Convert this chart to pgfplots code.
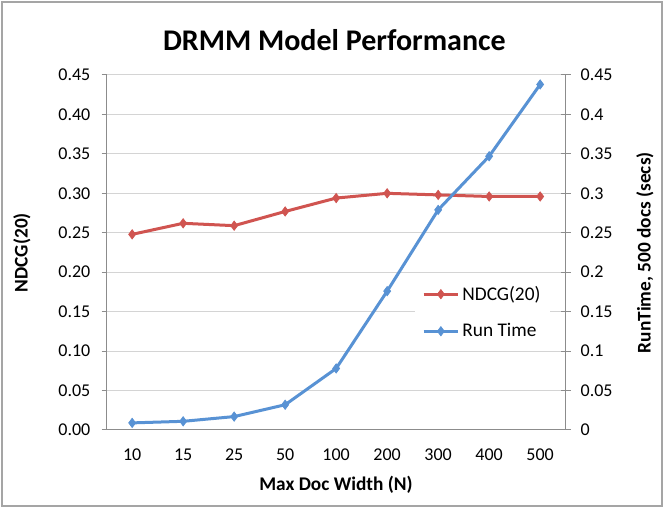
\documentclass[border=0pt]{standalone}
\usepackage{fontspec}
\setmainfont{Carlito}
\usepackage{pgfplots}
\pgfplotsset{compat=1.18}

\definecolor{ndcg}{RGB}{208,84,80}
\definecolor{rt}{RGB}{88,146,212}
\definecolor{axgray}{RGB}{140,140,140}
\definecolor{gridgray}{RGB}{212,212,212}
\definecolor{framegray}{RGB}{165,165,165}

\pgfplotsset{
  drmm/.style={
    scale only axis, width=344.25pt, height=266.25pt,
    at={(0,0)}, anchor=south west,
    xmin=-0.5, xmax=8.5, ymin=0, ymax=0.45,
    axis line style={axgray, line width=0.75pt, -},
    tick style={axgray, line width=0.75pt},
    ytick={0,0.05,0.1,0.15,0.2,0.25,0.3,0.35,0.4,0.45},
    scaled y ticks=false,
    ticklabel style={font=\fontsize{13.5}{16}\selectfont},
    /pgf/number format/assume math mode=true,
  },
  series/.style={#1, line width=2.25pt, mark=diamond*, mark size=3.5pt,
    mark options={solid, fill=#1, draw=#1, line width=0.5pt}},
}

\begin{document}
\begin{tikzpicture}
\useasboundingbox (-80pt,-59.25pt) rectangle (418pt,322.5pt);
\fill[white] (-80pt,-59.25pt) rectangle (418pt,322.5pt);
\draw[framegray, line width=1.5pt] (-78.5pt,-57pt) rectangle (416.5pt,321pt);

\begin{axis}[drmm,
  axis x line*=bottom, axis y line*=left,
  ymajorgrids, grid style={gridgray, line width=0.75pt},
  xtick={0,...,8},
  xticklabels={10,15,25,50,100,200,300,400,500},
  major x tick style={draw=none},
  extra x ticks={-0.5,0.5,1.5,2.5,3.5,4.5,5.5,6.5,7.5,8.5},
  extra x tick labels={},
  extra x tick style={major tick length=3.75pt, tick align=outside, grid=none},
  xticklabel style={yshift=-10.5pt},
  ytick align=outside, major tick length=3.75pt,
  yticklabel style={/pgf/number format/fixed, /pgf/number format/fixed zerofill,
    /pgf/number format/precision=2, xshift=-5pt},
]
\addplot[series=ndcg] coordinates {
  (0,0.248) (1,0.262) (2,0.259) (3,0.277) (4,0.294)
  (5,0.300) (6,0.298) (7,0.296) (8,0.296)
};
\end{axis}

\begin{axis}[drmm,
  axis y line*=right, axis x line=none, xtick=\empty,
  ytick align=center, major tick length=7.5pt,
  yticklabel style={/pgf/number format/fixed, /pgf/number format/precision=2, xshift=4pt},
  legend style={at={(0.672,0.331)}, anchor=west, draw=none, fill=white,
    font=\fontsize{14.5}{17}\selectfont, row sep=12pt, inner xsep=5pt, inner ysep=5pt},
  legend cell align=left,
  legend image code/.code={\draw[mark repeat=2, mark phase=2, #1]
    plot coordinates {(0pt,0pt) (13pt,0pt) (26pt,0pt)};},
]
\addlegendimage{series=ndcg}
\addlegendentry{NDCG(20)}
\addplot[series=rt] coordinates {
  (0,0.009) (1,0.011) (2,0.017) (3,0.032) (4,0.078)
  (5,0.176) (6,0.279) (7,0.347) (8,0.438)
};
\addlegendentry{Run Time}
\end{axis}

\node[font=\fontsize{22.5}{27}\selectfont\bfseries] at (170.85pt,292.5pt) {DRMM Model Performance};
\node[font=\fontsize{14.5}{17}\selectfont\bfseries] at (172pt,-41.25pt) {Max Doc Width (N)};
\node[rotate=90, font=\fontsize{14.5}{17}\selectfont\bfseries] at (-63.5pt,133pt) {NDCG(20)};
\node[rotate=90, font=\fontsize{14.5}{17}\selectfont\bfseries] at (403.7pt,133pt) {RunTime, 500 docs (secs)};
\end{tikzpicture}
\end{document}
